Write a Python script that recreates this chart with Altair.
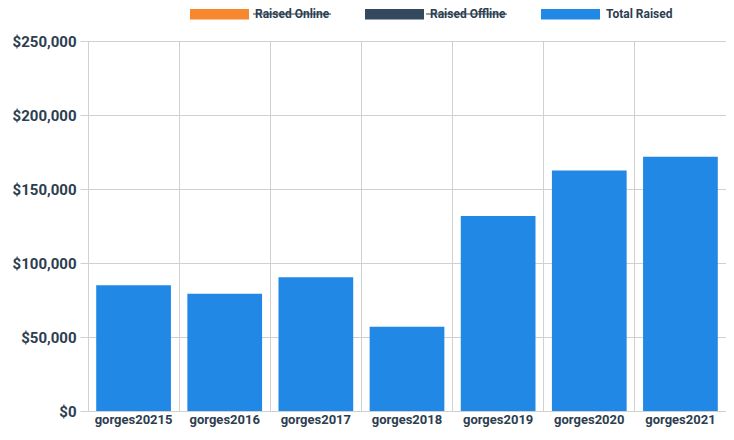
import altair as alt
import pandas as pd

categories = ["gorges20215", "gorges2016", "gorges2017", "gorges2018",
              "gorges2019", "gorges2020", "gorges2021"]
total_raised = [85000, 79300, 90400, 57000, 131800, 162500, 171800]

series_names = ["Raised Online", "Raised Offline", "Total Raised"]
series_colors = ["#F7882F", "#34495E", "#2189E5"]
hidden_series = ["Raised Online", "Raised Offline"]

y_ticks = [0, 50000, 100000, 150000, 200000, 250000]

df = pd.DataFrame({
    "category": categories,
    "value": total_raised,
    "series": ["Total Raised"] * len(categories),
})

FONT = "Roboto"
TEXT = "#2C3E50"
GRID = "#D0D0D0"

bars = alt.Chart(df).mark_bar(width=alt.RelativeBandSize(0.82)).encode(
    x=alt.X("category:N", sort=categories, title=None,
            scale=alt.Scale(paddingInner=0, paddingOuter=0),
            axis=alt.Axis(grid=True, bandPosition=0, ticks=False, domain=False,
                          labelAngle=0, labelFont=FONT, labelFontSize=13,
                          labelFontWeight="bold", labelColor=TEXT,
                          labelPadding=2, gridColor=GRID, gridOpacity=1)),
    y=alt.Y("value:Q", title=None,
            scale=alt.Scale(domain=[0, 250000], nice=False),
            axis=alt.Axis(values=y_ticks, format="$,.0f", domain=False,
                          tickSize=8, tickColor=GRID, labelPadding=4,
                          labelFont=FONT, labelFontSize=15, labelFontWeight="bold",
                          labelColor=TEXT, gridColor=GRID, gridOpacity=1)),
    color=alt.Color("series:N",
                    scale=alt.Scale(domain=series_names, range=series_colors),
                    legend=alt.Legend(
                        title=None, orient="none", legendX=102, legendY=-56.5,
                        direction="horizontal",
                        symbolType="M-1,-0.18L1,-0.18L1,0.18L-1,0.18Z",
                        symbolSize=3481, symbolStrokeWidth=0, symbolOpacity=1,
                        labelFont=FONT, labelFontSize=12, labelFontWeight="bold",
                        labelColor=TEXT, labelOffset=6, columnPadding=35)),
)

# strike-through lines over the hidden legend entries
strike_df = pd.DataFrame({"series": hidden_series,
                          "x1": [165, 338], "x2": [243, 419]})
strikes = alt.Chart(strike_df).mark_rule(color=TEXT, strokeWidth=1).encode(
    x=alt.X("x1:Q", scale=None),
    x2="x2:Q",
    y=alt.value(-27),
)

chart = alt.layer(bars, strikes).properties(
    width=638, height=370,
    autosize=alt.AutoSizeParams(type="none"),
    padding={"left": 80, "top": 33, "right": 0, "bottom": 17},
).configure_view(stroke=None)

chart.save("out.html", embed_options={"renderer": "svg", "actions": False})
